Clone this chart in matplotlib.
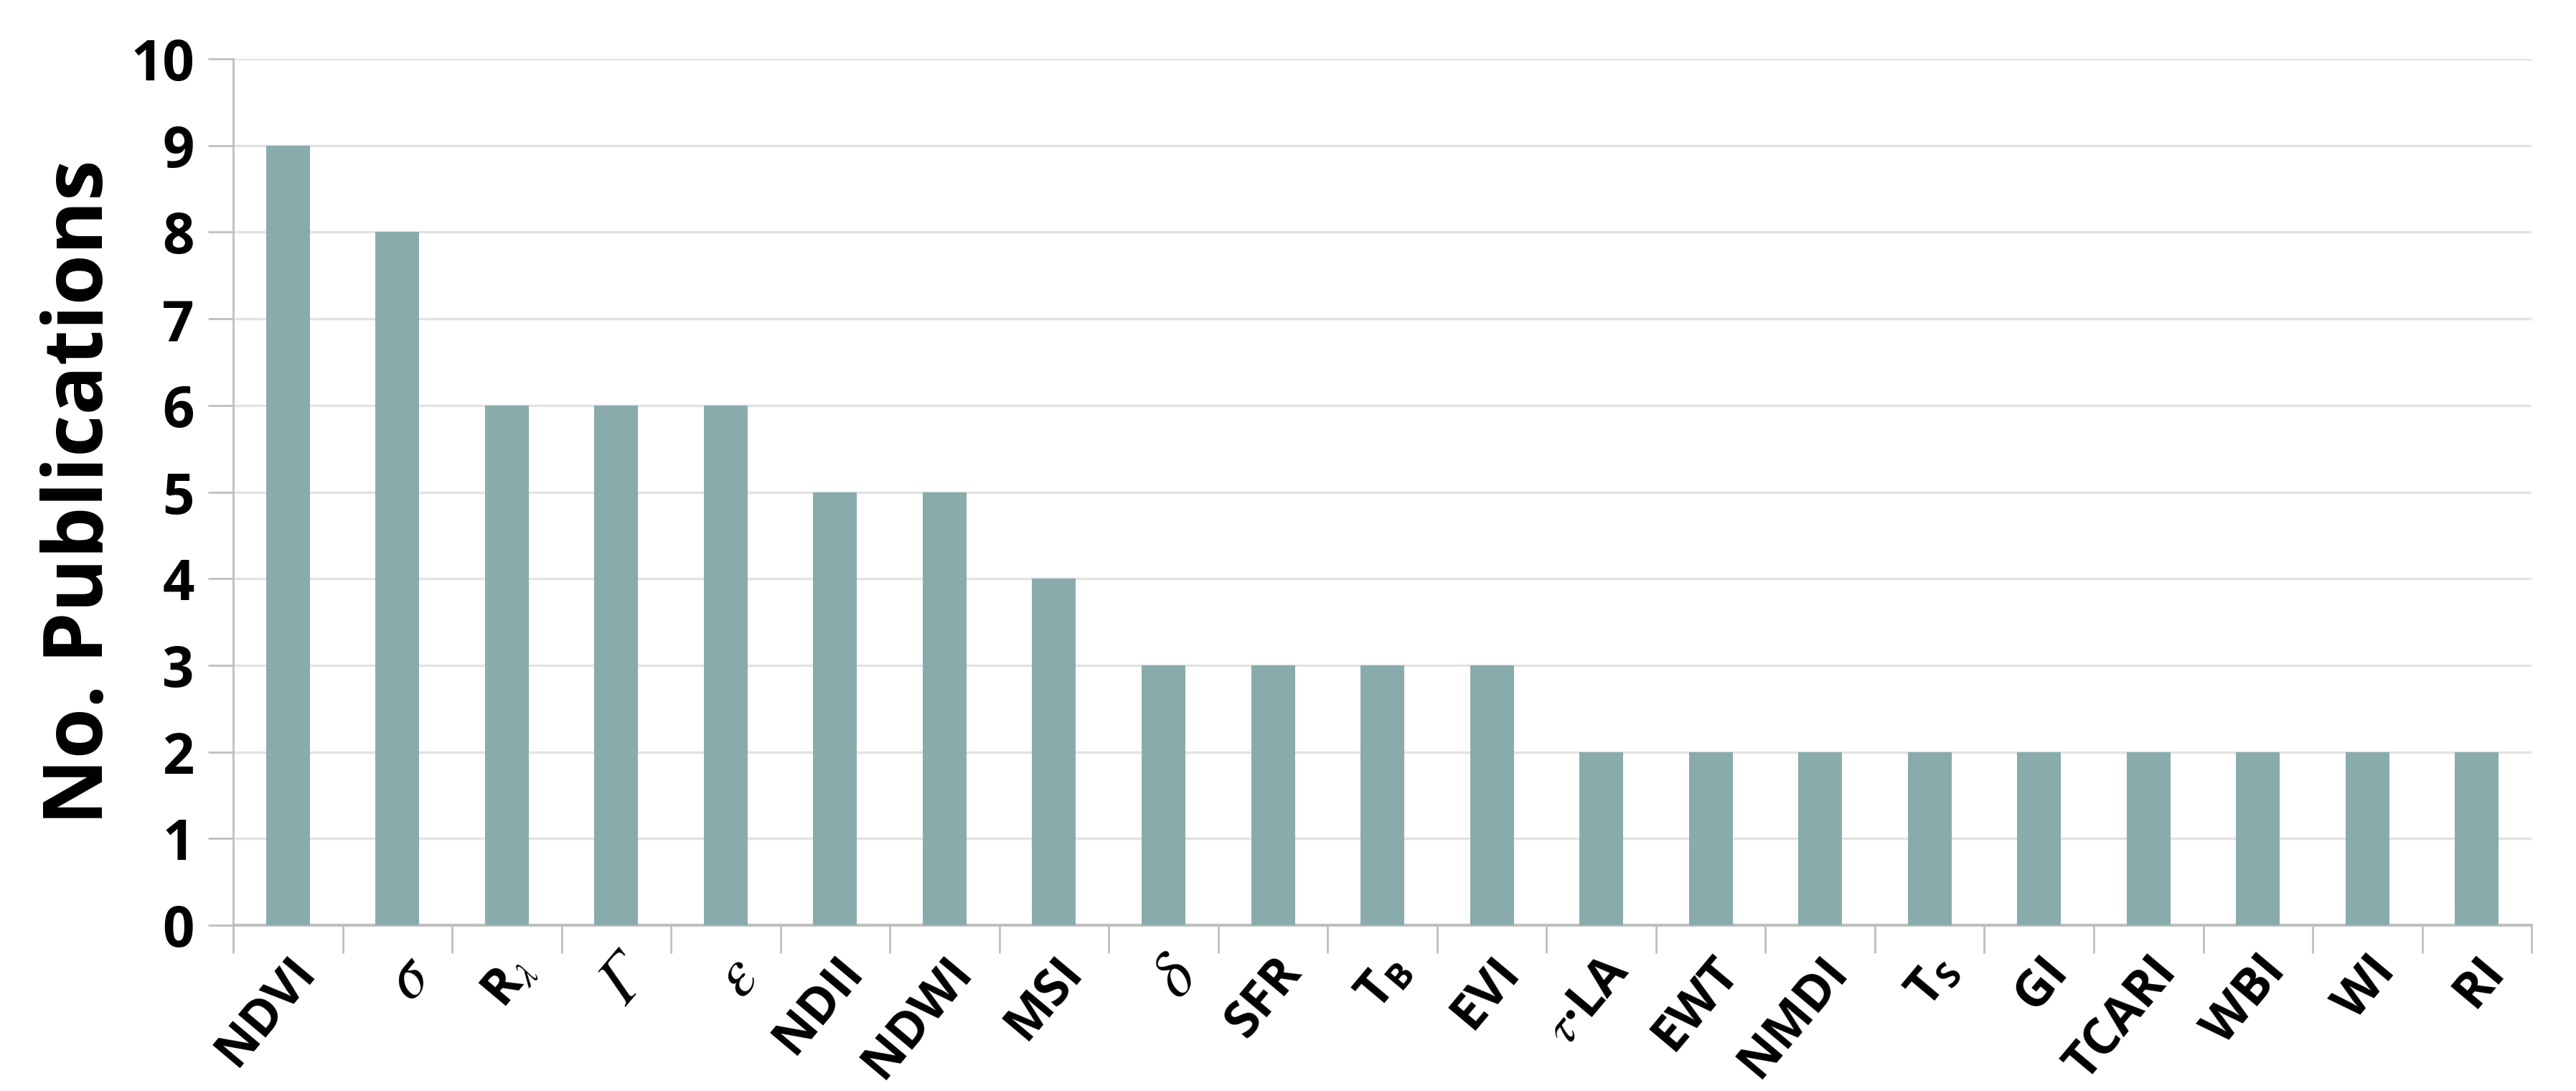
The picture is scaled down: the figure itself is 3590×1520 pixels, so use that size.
import numpy as np
import matplotlib
matplotlib.use("Agg")
import matplotlib.pyplot as plt

# data
labels = ['NDVI', 'σ', r'R$_\lambda$', 'Γ', 'ε', 'NDII', 'NDWI',
          'MSI', 'δ', 'SFR', r'T$_\mathrm{B}$', 'EVI', r'$\tau$·LA', 'EWT', 'NMDI',
          r'T$_\mathrm{S}$', 'GI', 'TCARI', 'WBI', 'WI', 'RI']
counts = [9, 8, 6, 6, 6, 5, 5, 4, 3, 3, 3, 3, 2, 2, 2, 2, 2, 2, 2, 2, 2]
yticks = list(range(0, 11))
greek_only = {1, 3, 4, 8}

plt.rcParams['font.family'] = ['Open Sans', 'DejaVu Sans']
plt.rcParams['mathtext.fontset'] = 'custom'
plt.rcParams['mathtext.rm'] = 'Open Sans:bold'
plt.rcParams['mathtext.bf'] = 'Open Sans:bold'
plt.rcParams['mathtext.it'] = 'STIXGeneral:italic'

fig = plt.figure(figsize=(35.91, 15.20), dpi=100)
ax = fig.add_axes([0.0905, 0.152, 0.892, 0.794])

x = np.arange(len(counts))
ax.bar(x, counts, width=0.4, color='#8AABAC', zorder=3)

ax.set_xlim(-0.5, len(counts) - 0.5)
ax.set_ylim(0, 10)
ax.set_yticks(yticks)
ax.set_yticklabels([str(v) for v in yticks], fontsize=56, fontweight='bold')
ax.grid(axis='y', color='#E3E3E3', linewidth=2.5, zorder=0)

# category labels at centers, tick marks at the boundaries
ax.set_xticks(x)
ax.set_xticklabels(labels, fontsize=50, fontweight='bold', rotation=50,
                   ha='right', rotation_mode='anchor')
for i, t in enumerate(ax.get_xticklabels()):
    if i in greek_only:
        t.set_family(['STIXGeneral', 'DejaVu Serif'])
        t.set_style('italic')
        t.set_fontweight('normal')
        t.set_fontsize(66)
ax.tick_params(axis='x', which='major', length=0, pad=22)
ax.set_xticks(np.arange(len(counts) + 1) - 0.5, minor=True)
ax.tick_params(axis='x', which='minor', length=28, width=2, color='#BFBFBF')
ax.tick_params(axis='y', length=25, width=2, color='#BFBFBF', pad=14)

for side in ['top', 'right']:
    ax.spines[side].set_visible(False)
ax.spines['left'].set_color('#BFBFBF')
ax.spines['left'].set_linewidth(2)
ax.spines['bottom'].set_color('#BFBFBF')
ax.spines['bottom'].set_linewidth(3)

ax.set_ylabel('No. Publications', fontsize=82, fontweight='bold')
ax.yaxis.set_label_coords(-0.048, 0.5)

fig.savefig('out.png', dpi=100, facecolor='white')
